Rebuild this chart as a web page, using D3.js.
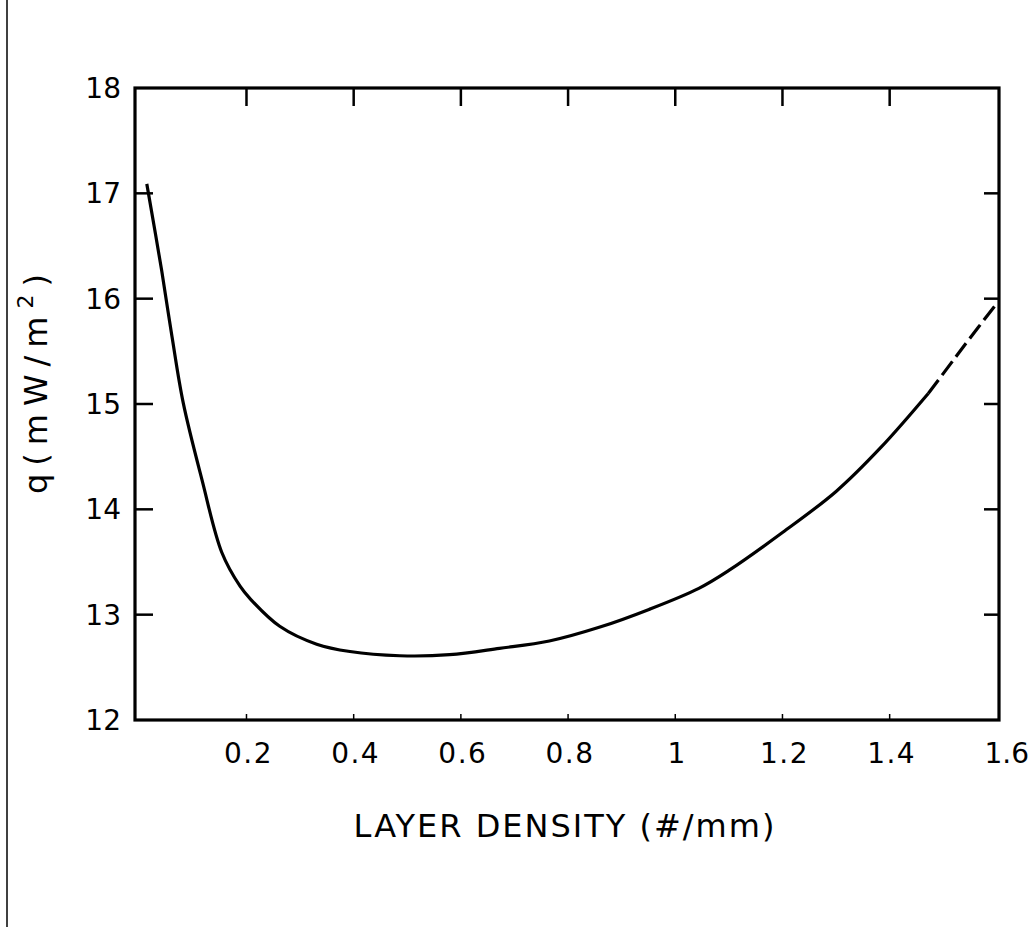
<!DOCTYPE html>
<html>
<head>
<meta charset="utf-8">
<script src="https://cdn.jsdelivr.net/npm/d3@7"></script>
<style>
  html, body { margin: 0; padding: 0; background: #fff; }
  svg { display: block; }
</style>
</head>
<body>
<svg id="chart" width="1033" height="927"></svg>
<script>
// ---- data ----
const densitySolid = [0.014, 0.042, 0.061, 0.082, 0.117, 0.154, 0.188, 0.207, 0.262, 0.331, 0.393, 0.486, 0.579, 0.672, 0.765, 0.858, 0.951, 1.044, 1.1, 1.2, 1.3, 1.384, 1.472];
const heatSolid    = [17.09, 16.26, 15.64, 15.01, 14.28, 13.59, 13.27, 13.15, 12.89, 12.72, 12.65, 12.61, 12.62, 12.68, 12.75, 12.88, 13.05, 13.25, 13.42, 13.78, 14.17, 14.59, 15.10];
const densityDashed = [1.472, 1.509, 1.54, 1.596];
const heatDashed    = [15.10, 15.35, 15.56, 15.93];
const xTickValues = [0.2, 0.4, 0.6, 0.8, 1.0, 1.2, 1.4, 1.6];
const xTickLabels = ["0.2", "0.4", "0.6", "0.8", "1", "1.2", "1.4", "1.6"];
const yTickValues = [12, 13, 14, 15, 16, 17, 18];
const yTickLabels = ["12", "13", "14", "15", "16", "17", "18"];

const svg = d3.select("#chart");
const font = "'DejaVu Sans', sans-serif";

// page border line at the left
svg.append("line").attr("x1", 7).attr("x2", 7).attr("y1", 0).attr("y2", 927)
  .attr("stroke", "#000").attr("stroke-width", 1.5);

const x = d3.scaleLinear().domain([-0.008, 1.604]).range([135, 999]);
const y = d3.scaleLinear().domain([12, 18]).range([720, 88]);

const [xl, xr] = x.range();
const [yb, yt] = y.range();

const g = svg.append("g");
// top ticks
g.selectAll(".tt").data(xTickValues.filter(v => v < 1.55)).join("line")
  .attr("x1", d => x(d)).attr("x2", d => x(d)).attr("y1", yt).attr("y2", yt + 18)
  .attr("stroke", "#000").attr("stroke-width", 2.5);
// bottom ticks (small)
g.selectAll(".bt").data(xTickValues.filter(v => v < 1.55)).join("line")
  .attr("x1", d => x(d)).attr("x2", d => x(d)).attr("y1", yb).attr("y2", yb - 6)
  .attr("stroke", "#000").attr("stroke-width", 1.5);
// left ticks
g.selectAll(".lt").data(yTickValues.filter(v => v > 12 && v < 18)).join("line")
  .attr("x1", xl).attr("x2", xl + 18).attr("y1", d => y(d)).attr("y2", d => y(d))
  .attr("stroke", "#000").attr("stroke-width", 2.5);
// right ticks
g.selectAll(".rt").data(yTickValues.filter(v => v > 12 && v < 18)).join("line")
  .attr("x1", xr).attr("x2", xr - 15).attr("y1", d => y(d)).attr("y2", d => y(d))
  .attr("stroke", "#000").attr("stroke-width", 2.5);

// frame
svg.append("rect").attr("x", xl).attr("y", yt).attr("width", xr - xl).attr("height", yb - yt)
  .attr("fill", "none").attr("stroke", "#000").attr("stroke-width", 3.2);

// tick labels
const nX = xTickValues.length;
svg.selectAll(".xl").data(xTickValues).join("text")
  .attr("x", (d, i) => i === nX - 1 ? 1029 : x(d) + 2)
  .attr("y", 763)
  .attr("text-anchor", (d, i) => i === nX - 1 ? "end" : "middle")
  .attr("font-family", font).attr("font-size", 28)
  .attr("letter-spacing", (d, i) => i === nX - 1 ? 0 : 1.5)
  .attr("fill", "#000")
  .text((d, i) => xTickLabels[i]);

svg.selectAll(".yl").data(yTickValues).join("text")
  .attr("x", 121).attr("y", d => y(d))
  .attr("dy", "0.36em")
  .attr("text-anchor", "end")
  .attr("font-family", font).attr("font-size", 28)
  .attr("fill", "#000")
  .text((d, i) => yTickLabels[i]);

// axis titles
svg.append("text").attr("x", 565).attr("y", 837).attr("text-anchor", "middle")
  .attr("font-family", font).attr("font-size", 32).attr("letter-spacing", 2)
  .attr("fill", "#000").text("LAYER DENSITY (#/mm)");

const yt2 = svg.append("text")
  .attr("transform", "translate(47,380) rotate(-90)")
  .attr("text-anchor", "middle")
  .attr("font-family", font).attr("font-size", 32).attr("letter-spacing", 8)
  .attr("fill", "#000");
yt2.append("tspan").text("q(mW/m");
yt2.append("tspan").attr("font-size", 22).attr("dy", -14).text("2");
yt2.append("tspan").attr("dy", 14).text(")");

// curves
const line = d3.line().x(d => x(d[0])).y(d => y(d[1])).curve(d3.curveCatmullRom.alpha(0.5));
svg.append("path")
  .datum(d3.zip(densitySolid, heatSolid))
  .attr("d", line).attr("fill", "none").attr("stroke", "#000").attr("stroke-width", 3.2);
svg.append("path")
  .datum(d3.zip(densityDashed, heatDashed))
  .attr("d", line).attr("fill", "none").attr("stroke", "#000").attr("stroke-width", 3.2)
  .attr("stroke-dasharray", "17 6");
</script>
</body>
</html>
